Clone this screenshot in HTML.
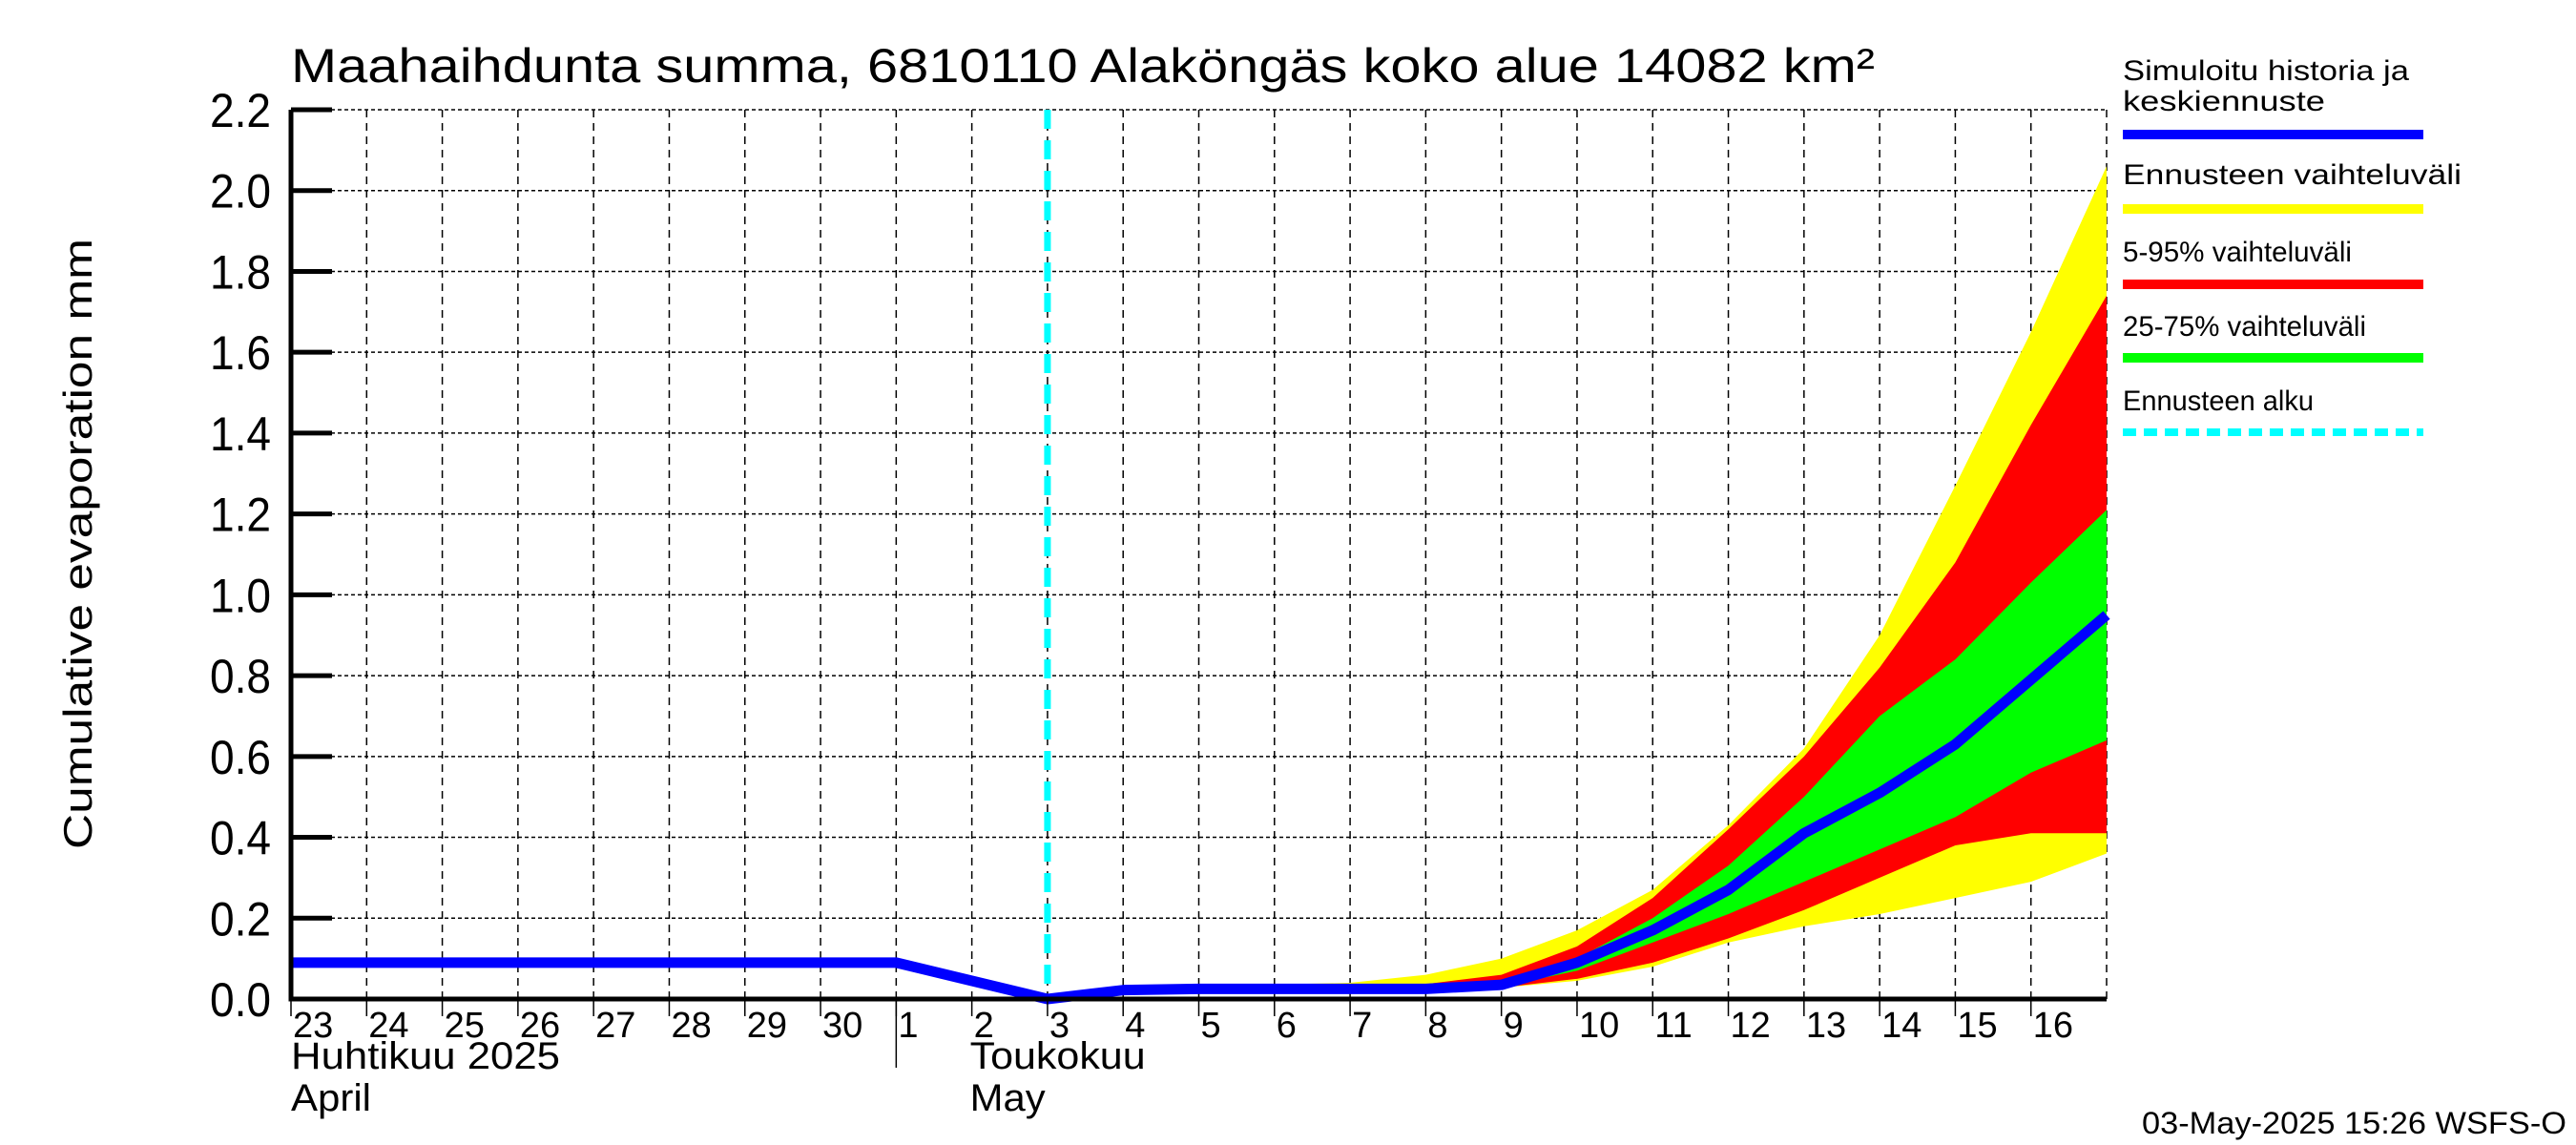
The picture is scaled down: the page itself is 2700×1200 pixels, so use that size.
<!DOCTYPE html>
<html><head><meta charset="utf-8"><style>body{margin:0;background:#fff}svg{display:block}text{font-family:"Liberation Sans",sans-serif}</style></head>
<body>
<svg id="chart" width="2700" height="1200" xmlns="http://www.w3.org/2000/svg">
<text x="305" y="86" font-size="50" textLength="1660" lengthAdjust="spacingAndGlyphs">Maahaihdunta summa, 6810110 Alaköngäs koko alue 14082 km²</text>
<text transform="translate(96,570) rotate(-90)" text-anchor="middle" font-size="42" textLength="640" lengthAdjust="spacingAndGlyphs">Cumulative evaporation   mm</text>
<g id="grid"></g><g id="bands"></g><g id="lines"></g><g id="axes"></g>
<g font-size="30">
<text x="2225" y="84" textLength="300" lengthAdjust="spacingAndGlyphs">Simuloitu historia ja</text>
<text x="2225" y="116" textLength="212" lengthAdjust="spacingAndGlyphs">keskiennuste</text>
<line x1="2225" x2="2540" y1="141" y2="141" stroke="#0000ff" stroke-width="10"/>
<text x="2225" y="193" textLength="355" lengthAdjust="spacingAndGlyphs">Ennusteen vaihteluväli</text>
<line x1="2225" x2="2540" y1="219" y2="219" stroke="#ffff00" stroke-width="10"/>
<text x="2225" y="274" textLength="240" lengthAdjust="spacingAndGlyphs">5-95% vaihteluväli</text>
<line x1="2225" x2="2540" y1="298" y2="298" stroke="#ff0000" stroke-width="10"/>
<text x="2225" y="352" textLength="255" lengthAdjust="spacingAndGlyphs">25-75% vaihteluväli</text>
<line x1="2225" x2="2540" y1="375" y2="375" stroke="#00ff00" stroke-width="10"/>
<text x="2225" y="430" textLength="200" lengthAdjust="spacingAndGlyphs">Ennusteen alku</text>
<line x1="2225" x2="2540" y1="453" y2="453" stroke="#00ffff" stroke-width="8" stroke-dasharray="14,8"/>
</g>
<text x="2690" y="1188" text-anchor="end" font-size="32" textLength="445" lengthAdjust="spacingAndGlyphs">03-May-2025 15:26 WSFS-O</text>
</svg>
<script>
const dayLabels=["23","24","25","26","27","28","29","30","1","2","3","4","5","6","7","8","9","10","11","12","13","14","15","16"];
const yTicks=[0,0.2,0.4,0.6,0.8,1.0,1.2,1.4,1.6,1.8,2.0,2.2];
const medianX=[0,8,10,11,12,13,14,15,16,17,18,19,20,21,22,23,24];
const medianY=[0.09,0.09,0,0.022,0.025,0.025,0.025,0.025,0.035,0.09,0.17,0.27,0.41,0.51,0.63,0.79,0.95];
const bandX=[10,11,12,13,14,15,16,17,18,19,20,21,22,23,24];
const yellowHi=[0,0.026,0.032,0.036,0.04,0.06,0.1,0.17,0.27,0.43,0.62,0.9,1.27,1.65,2.06];
const redHi=[0,0.022,0.027,0.03,0.032,0.037,0.06,0.13,0.25,0.42,0.6,0.82,1.08,1.42,1.74];
const greenHi=[0,0.02,0.024,0.026,0.027,0.03,0.04,0.1,0.2,0.33,0.5,0.7,0.84,1.03,1.21];
const greenLo=[0,0.02,0.022,0.023,0.024,0.026,0.03,0.07,0.14,0.21,0.29,0.37,0.45,0.56,0.64];
const redLo=[0,0.018,0.02,0.021,0.022,0.024,0.028,0.05,0.09,0.15,0.22,0.3,0.38,0.41,0.41];
const yellowLo=[0,0.018,0.02,0.021,0.022,0.024,0.028,0.045,0.08,0.14,0.18,0.21,0.25,0.29,0.36];
const forecastDay=10;
const L=305,R=2208,T=115,B=1047,ND=24,YMAX=2.2;
const sx=d=>L+(R-L)*d/ND, sy=v=>B-(B-T)*v/YMAX;
const NS="http://www.w3.org/2000/svg";
function mk(tag,parent,attrs){const e=document.createElementNS(NS,tag);for(const k in attrs)e.setAttribute(k,attrs[k]);document.getElementById(parent).appendChild(e);return e;}
for(let i=1;i<=ND;i++){const e=mk('line','grid',{x1:sx(i),x2:sx(i),y1:T,y2:B,stroke:'#000','stroke-width':1.5,'stroke-dasharray':'8,6'});
}
yTicks.forEach(v=>{if(v>0){const e=mk('line','grid',{x1:L,x2:R,y1:sy(v),y2:sy(v),stroke:'#000','stroke-width':1.5,'stroke-dasharray':'4,3'});
}
const t=mk('line','axes',{x1:L,x2:L+43,y1:sy(v),y2:sy(v),stroke:'#000','stroke-width':5});

const lb=mk('text','axes',{x:284,y:sy(v)+18,'text-anchor':'end','font-size':50,textLength:64,lengthAdjust:'spacingAndGlyphs'});lb.textContent=v.toFixed(1);
});
function band(hi,lo,color,name){const pts=bandX.map((d,i)=>sx(d)+','+sy(hi[i])).concat(bandX.map((d,i)=>sx(d)+','+sy(lo[i])).reverse());
const p=mk('polygon','bands',{points:pts.join(' '),fill:color});}
band(yellowHi,yellowLo,'#ffff00','band-range');band(redHi,redLo,'#ff0000','band-5-95');band(greenHi,greenLo,'#00ff00','band-25-75');
const fl=mk('line','lines',{x1:sx(forecastDay),x2:sx(forecastDay),y1:T,y2:B,stroke:'#00ffff','stroke-width':7,'stroke-dasharray':'20,12'});

const ml=mk('polyline','lines',{points:medianX.map((d,i)=>sx(d)+','+sy(medianY[i])).join(' '),fill:'none',stroke:'#0000ff','stroke-width':11,'stroke-linejoin':'round'});

const ax=mk('polyline','axes',{points:`${L},${T} ${L},${B} ${R},${B}`,fill:'none',stroke:'#000','stroke-width':5});

dayLabels.forEach((s,i)=>{const tk=mk('line','axes',{x1:sx(i),x2:sx(i),y1:B,y2:B+18,stroke:'#000','stroke-width':1.5});

const t=mk('text','axes',{x:sx(i)+2,y:B+40,'font-size':38});t.textContent=s;
});
const sep=mk('line','axes',{x1:sx(8),x2:sx(8),y1:B,y2:B+72,stroke:'#000','stroke-width':1.5});

[["Huhtikuu  2025",sx(0),1120,282],["April",sx(0),1164,84],["Toukokuu",sx(9)-2,1120,184],["May",sx(9)-2,1164,79]].forEach(a=>{
const t=mk('text','axes',{x:a[1],y:a[2],'font-size':40,textLength:a[3],lengthAdjust:'spacingAndGlyphs'});t.textContent=a[0];
});
</script>
</body></html>
